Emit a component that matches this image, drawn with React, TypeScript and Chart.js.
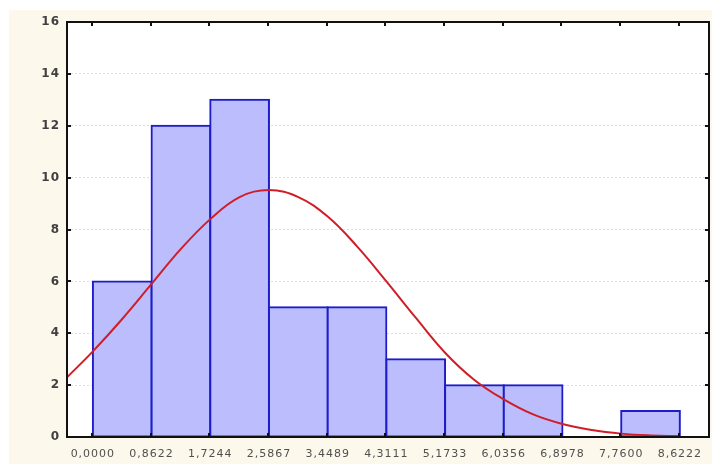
import React, { useEffect, useRef } from "react";
import { Chart, registerables } from "chart.js";

Chart.register(...registerables);

// Bin edges (x tick values) and their printed labels
const binEdges = [0, 0.8622, 1.7244, 2.5867, 3.4489, 4.3111, 5.1733, 6.0356, 6.8978, 7.76, 8.6222];
const xTickLabels = ["0,0000", "0,8622", "1,7244", "2,5867", "3,4489", "4,3111", "5,1733", "6,0356", "6,8978", "7,7600", "8,6222"];

// Histogram counts per bin
const counts = [6, 12, 13, 5, 5, 3, 2, 2, 0, 1];

// Fitted curve
const curveX = [-0.38, 0, 0.4311, 0.8622, 1.2933, 1.7244, 2.1556, 2.5867, 3.0178, 3.4489, 3.88, 4.3111, 4.7422, 5.1733, 5.6044, 6.0356, 6.4667, 6.8978, 7.3289, 7.76, 8.1911, 8.6222];
const curveY = [2.3, 3.3, 4.55, 5.9, 7.25, 8.4, 9.25, 9.52, 9.25, 8.5, 7.35, 6.0, 4.6, 3.25, 2.2, 1.45, 0.87, 0.5, 0.27, 0.13, 0.06, 0.03];

// Y axis
const yMin = 0;
const yMax = 16;
const yStep = 2;

const backgroundPlugin = {
  id: "bgPlugin",
  beforeDraw(chart: any) {
    const { ctx, chartArea, width, height } = chart;
    ctx.save();
    ctx.fillStyle = "#ffffff";
    ctx.fillRect(0, 0, width, height);
    ctx.fillStyle = "#fdf8ec";
    ctx.fillRect(9, 10, width - 9, height - 10);
    ctx.fillStyle = "#ffffff";
    ctx.fillRect(chartArea.left, chartArea.top, chartArea.right - chartArea.left, chartArea.bottom - chartArea.top);
    ctx.restore();
    (ctx as any).letterSpacing = "1px";
  },
};

const framePlugin = {
  id: "framePlugin",
  afterDraw(chart: any) {
    const { ctx, chartArea } = chart;
    const { left, right, top, bottom } = chartArea;
    const xs = chart.scales.x;
    const ys = chart.scales.y;
    ctx.save();
    (ctx as any).letterSpacing = "0px";
    ctx.strokeStyle = "#111111";
    ctx.lineWidth = 2;
    ctx.strokeRect(left, top, right - left, bottom - top);
    ctx.lineWidth = 2;
    const tl = 3;
    ctx.beginPath();
    binEdges.forEach((v) => {
      const px = Math.round(xs.getPixelForValue(v)) - 1;
      ctx.moveTo(px, bottom);
      ctx.lineTo(px, bottom - tl - 1);
      ctx.moveTo(px, top);
      ctx.lineTo(px, top + tl + 1);
    });
    for (let v = yMin; v <= yMax; v += yStep) {
      const py = Math.round(ys.getPixelForValue(v));
      ctx.moveTo(left, py);
      ctx.lineTo(left + tl + 1, py);
      ctx.moveTo(right, py);
      ctx.lineTo(right - tl - 1, py);
    }
    ctx.stroke();
    ctx.restore();
  },
};

export default function App() {
  const canvasRef = useRef<HTMLCanvasElement | null>(null);

  useEffect(() => {
    if (!canvasRef.current) return;
    const barData = counts.map((c, i) => ({ x: (binEdges[i] + binEdges[i + 1]) / 2, y: c }));
    const lineData = curveX.map((x, i) => ({ x, y: curveY[i] }));

    const chart = new Chart(canvasRef.current, {
      type: "bar",
      data: {
        datasets: [
          {
            type: "line",
            data: lineData,
            borderColor: "#d01e28",
            borderWidth: 2,
            pointRadius: 0,
            tension: 0.4,
            fill: false,
            order: 0,
          } as any,
          {
            type: "bar",
            data: barData,
            backgroundColor: "#bbbdfd",
            borderColor: "#1c1cc8",
            borderWidth: 2,
            borderSkipped: false,
            inflateAmount: 1,
            barPercentage: 1,
            categoryPercentage: 1,
            order: 1,
          } as any,
        ],
      },
      options: {
        responsive: false,
        animation: false,
        devicePixelRatio: 1,
        layout: { padding: { left: 0, top: 22, right: 3, bottom: 0 } },
        plugins: {
          legend: { display: false },
          tooltip: { enabled: false },
        },
        scales: {
          x: {
            type: "linear",
            min: -0.38,
            max: 9.05,
            offset: false,
            grid: { display: false, drawTicks: false },
            border: { display: false },
            afterBuildTicks: (scale: any) => {
              scale.ticks = binEdges.map((v) => ({ value: v }));
            },
            afterFit: (scale: any) => {
              scale.height = 27;
            },
            ticks: {
              autoSkip: false,
              maxRotation: 0,
              padding: 11,
              color: "#505050",
              font: { family: "'DejaVu Sans'", size: 11 },
              callback: (_v: any, idx: number) => xTickLabels[idx],
            },
          },
          y: {
            min: yMin,
            max: yMax,
            grid: { color: "#dedede", lineWidth: 1, drawTicks: false },
            border: { display: false, dash: [2, 2] },
            afterFit: (scale: any) => {
              scale.width = 67;
            },
            ticks: {
              stepSize: yStep,
              padding: 7,
              color: "#404040",
              font: { family: "'DejaVu Sans'", size: 12, weight: "bold" },
            },
          },
        },
      } as any,
      plugins: [backgroundPlugin, framePlugin],
    });
    return () => chart.destroy();
  }, []);

  return (
    <div style={{ position: "fixed", left: 0, top: 0, width: 712, height: 464, background: "#ffffff" }}>
      <canvas ref={canvasRef} width={712} height={464} style={{ display: "block", width: 712, height: 464 }} />
    </div>
  );
}
